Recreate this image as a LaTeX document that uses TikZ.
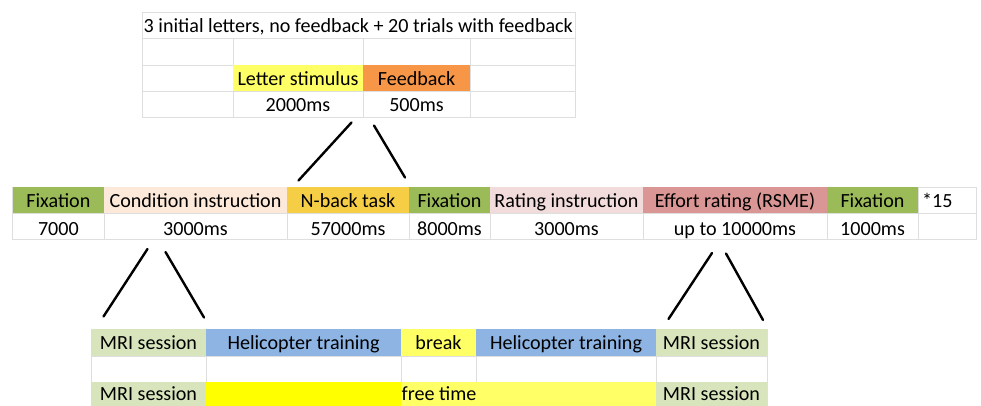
\documentclass[tikz,border=0pt]{standalone}
\usepackage{fontspec}
\setmainfont{Carlito}
\definecolor{gridc}{RGB}{222,222,222}
\definecolor{fixg}{RGB}{155,187,89}
\definecolor{condc}{RGB}{253,233,217}
\definecolor{nbackc}{RGB}{246,206,70}
\definecolor{ratinst}{RGB}{242,220,219}
\definecolor{effort}{RGB}{218,150,148}
\definecolor{letterc}{RGB}{255,255,102}
\definecolor{feedc}{RGB}{247,150,70}
\definecolor{mric}{RGB}{216,228,188}
\definecolor{helic}{RGB}{141,180,226}
\definecolor{breakc}{RGB}{255,255,102}
\definecolor{freea}{RGB}{255,255,0}
\definecolor{freeb}{RGB}{255,255,102}
\begin{document}
\begin{tikzpicture}[x=1pt,y=-1pt,font=\fontsize{20.1}{24}\selectfont,
  gl/.style={draw=gridc,line width=0.9pt},
  conn/.style={line width=2.4pt,line cap=round},
  lbl/.style={anchor=base,inner sep=0pt},
  lbll/.style={anchor=base west,inner sep=0pt}]
\useasboundingbox[fill=white] (0,0) rectangle (981,405);
% ---------- top table ----------
\draw[gl] (142,12) rectangle (575,117);
\draw[gl] (142,38) -- (575,38) (142,65) -- (575,65) (142,91) -- (575,91);
\draw[gl] (233,38) -- (233,117) (363,38) -- (363,117) (470,38) -- (470,117);
\fill[letterc] (233,65) rectangle (363,91);
\fill[feedc] (363,65) rectangle (470,91);
\node[lbll] (title) at (143.5,32) {3 initial letters, no feedback + 20 trials with feedback};
\node[lbl] (letter) at (298,85) {Letter stimulus};
\node[lbl] (feedback) at (416.5,85) {Feedback};
\node[lbl] (t2000) at (298,111) {2000ms};
\node[lbl] (t500) at (416.5,111) {500ms};
% ---------- middle table ----------
\draw[gl] (12.7,187) rectangle (976,239);
\draw[gl] (12.7,213) -- (976,213);
\foreach \xx in {104,287,409,490,643,827,918}{\draw[gl] (\xx,187) -- (\xx,239);}
\fill[fixg] (12.7,187) rectangle (104,213);
\fill[condc] (104,187) rectangle (287,213);
\fill[nbackc] (287,187) rectangle (409,213);
\fill[fixg] (409,187) rectangle (490,213);
\fill[ratinst] (490,187) rectangle (643,213);
\fill[effort] (643,187) rectangle (827,213);
\fill[fixg] (827,187) rectangle (918,213);
\node[lbl] (fix1) at (58.4,207) {Fixation};
\node[lbl] (cond) at (195.5,207) {Condition instruction};
\node[lbl] (nback) at (348,207) {N-back task};
\node[lbl] (fix2) at (449.5,207) {Fixation};
\node[lbl] (rinst) at (566.5,207) {Rating instruction};
\node[lbl] (eff) at (735,207) {Effort rating (RSME)};
\node[lbl] (fix3) at (872.5,207) {Fixation};
\node[lbll] (rep) at (922,207) {*15};
\node[lbl] (d1) at (58.4,235) {7000};
\node[lbl] (d2) at (195.5,235) {3000ms};
\node[lbl] (d3) at (348,235) {57000ms};
\node[lbl] (d4) at (449.5,235) {8000ms};
\node[lbl] (d5) at (566.5,235) {3000ms};
\node[lbl] (d6) at (735,235) {up to 10000ms};
\node[lbl] (d7) at (872.5,235) {1000ms};
% ---------- bottom table ----------
\draw[gl] (91,329) rectangle (767,410);
\draw[gl] (91,356) -- (767,356) (91,382) -- (767,382);
\foreach \xx in {206,401,476,656}{\draw[gl] (\xx,329) -- (\xx,410);}
\fill[mric] (91,329) rectangle (206,356);
\fill[helic] (206,329) rectangle (401,356);
\fill[breakc] (401,329) rectangle (476,356);
\fill[helic] (476,329) rectangle (656,356);
\fill[mric] (656,329) rectangle (767,356);
\fill[mric] (91,382) rectangle (206,410);
\fill[freea] (206,382) rectangle (401,410);
\fill[freeb] (401,382) rectangle (656,410);
\fill[mric] (656,382) rectangle (767,410);
\node[lbl] (mri1) at (148.5,349.5) {MRI session};
\node[lbl] (heli1) at (303.5,349.5) {Helicopter training};
\node[lbl] (brk) at (438.5,349.5) {break};
\node[lbl] (heli2) at (566,349.5) {Helicopter training};
\node[lbl] (mri2) at (711.5,349.5) {MRI session};
\node[lbl] (mri3) at (148.5,400.5) {MRI session};
\node[lbll] (free) at (401.5,400.5) {free time};
\node[lbl] (mri4) at (711.5,400.5) {MRI session};
% ---------- connectors ----------
\coordinate (a1) at (351.5,122.5); \coordinate (a2) at (298.5,180.5);
\coordinate (b1) at (374,125.5);   \coordinate (b2) at (405,177.5);
\coordinate (c1) at (147.5,249);   \coordinate (c2) at (103.5,316.5);
\coordinate (e1) at (165.5,252);   \coordinate (e2) at (204,317.5);
\coordinate (f1) at (712,253);     \coordinate (f2) at (668.5,319);
\coordinate (g1) at (726,253.5);   \coordinate (g2) at (763,320);
\draw[conn] (a1) -- (a2);
\draw[conn] (b1) -- (b2);
\draw[conn] (c1) -- (c2);
\draw[conn] (e1) -- (e2);
\draw[conn] (f1) -- (f2);
\draw[conn] (g1) -- (g2);
\end{tikzpicture}
\end{document}
